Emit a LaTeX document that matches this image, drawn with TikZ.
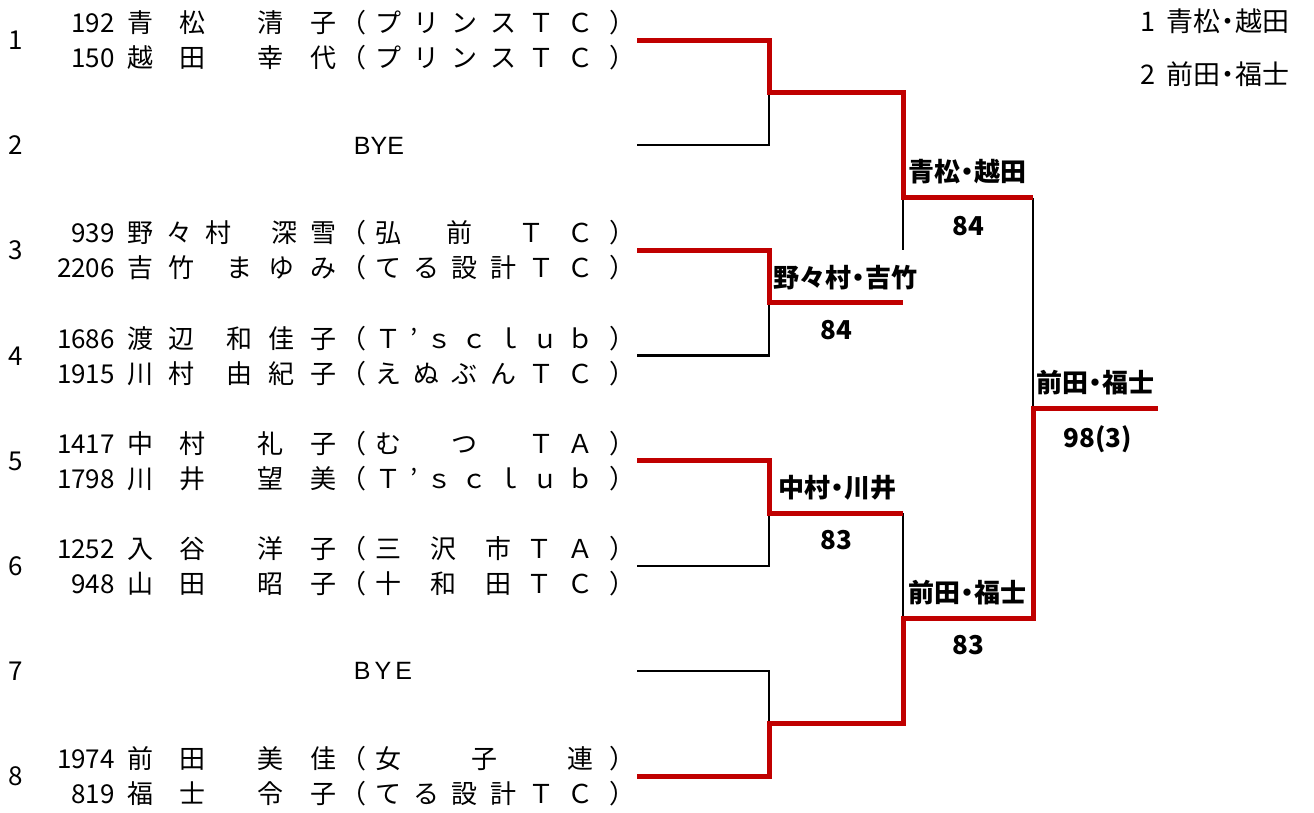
\documentclass[tikz,border=0pt]{standalone}
\usepackage{fontspec}
\setmainfont{Noto Sans CJK JP}
\newfontfamily\latinfont{Liberation Sans}
\usepackage{tikz}
\usetikzlibrary{positioning}

\definecolor{winred}{HTML}{C00000}

% distributed cell, as in the spreadsheet draw sheet
\newcommand{\dist}[2]{\makebox[#1][s]{#2}}
\newcommand{\pair}[2]{\dist{209pt}{#1}\hspace{4pt}（\hspace{9pt}\dist{218pt}{#2}\hspace{16pt}）}
% narrow middle dot between the two surnames
\newcommand{\pairdot}{\kern-6pt・\kern-6pt}

\begin{document}
\begin{tikzpicture}[
  x=1pt,y=-1pt,
  entry/.style={inner sep=0pt,font=\fontsize{26}{26}\selectfont},
  seed/.style={entry,anchor=base},
  num/.style={entry,anchor=base east},
  player/.style={entry,anchor=base west},
  bye/.style={inner sep=0pt,anchor=base,font=\latinfont\fontsize{25}{25}\selectfont},
  winner/.style={inner sep=0pt,anchor=base,font=\bfseries\fontsize{26}{26}\selectfont},
  legend/.style={inner sep=0pt,anchor=base west,font=\fontsize{27}{27}\selectfont},
  lose/.style={line width=2.5pt,black},
  win/.style={line width=5pt,winred}
]
\useasboundingbox (0,0) rectangle (1314,812);

% seeds
\node[seed] (s1) at (16,49.5) {1};
\node[seed] (s2) at (16,154.7) {2};
\node[seed] (s3) at (16,259.8) {3};
\node[seed] (s4) at (16,365) {4};
\node[seed] (s5) at (16,470.1) {5};
\node[seed] (s6) at (16,575.3) {6};
\node[seed] (s7) at (16,680.4) {7};
\node[seed] (s8) at (16,785.5) {8};

% players
\node[num] (n1a) at (115,32.5) {192};
\node[player] (p1a) at (127,32.5) {\pair{青\hfill 松\hfill\hfill 清\hfill 子}{プ\hfill リ\hfill ン\hfill ス\hfill Ｔ\hfill Ｃ}};
\node[num] (n1b) at (115,67.5) {150};
\node[player] (p1b) at (127,67.5) {\pair{越\hfill 田\hfill\hfill 幸\hfill 代}{プ\hfill リ\hfill ン\hfill ス\hfill Ｔ\hfill Ｃ}};

\node[bye] (bye2) at (379,154.2) {BYE};

\node[num] (n3a) at (115,242.8) {939};
\node[player] (p3a) at (127,242.8) {\pair{野\hfill 々\hfill 村\hfill\hfill\hfill 深\hfill 雪}{弘\hfill\hfill 前\hfill\hfill Ｔ\hfill Ｃ}};
\node[num] (n3b) at (115,277.8) {2206};
\node[player] (p3b) at (127,277.8) {\pair{吉\hfill 竹\hfill\hfill ま\hfill ゆ\hfill み}{て\hfill る\hfill 設\hfill 計\hfill Ｔ\hfill Ｃ}};

\node[num] (n4a) at (115,348) {1686};
\node[player] (p4a) at (127,348) {\pair{渡\hfill 辺\hfill\hfill 和\hfill 佳\hfill 子}{Ｔ\hfill ’\hfill ｓ\hfill ｃ\hfill ｌ\hfill ｕ\hfill ｂ}};
\node[num] (n4b) at (115,383) {1915};
\node[player] (p4b) at (127,383) {\pair{川\hfill 村\hfill\hfill 由\hfill 紀\hfill 子}{え\hfill ぬ\hfill ぶ\hfill ん\hfill Ｔ\hfill Ｃ}};

\node[num] (n5a) at (115,453.1) {1417};
\node[player] (p5a) at (127,453.1) {\pair{中\hfill 村\hfill\hfill 礼\hfill 子}{む\hfill\quad\hfill つ\hfill\quad\hfill Ｔ\hfill Ａ}};
\node[num] (n5b) at (115,488.1) {1798};
\node[player] (p5b) at (127,488.1) {\pair{川\hfill 井\hfill\hfill 望\hfill 美}{Ｔ\hfill ’\hfill ｓ\hfill ｃ\hfill ｌ\hfill ｕ\hfill ｂ}};

\node[num] (n6a) at (115,558.3) {1252};
\node[player] (p6a) at (127,558.3) {\pair{入\hfill 谷\hfill\hfill 洋\hfill 子}{三\hfill\hfill 沢\hfill\hfill 市\hfill Ｔ\hfill Ａ}};
\node[num] (n6b) at (115,593.3) {948};
\node[player] (p6b) at (127,593.3) {\pair{山\hfill 田\hfill\hfill 昭\hfill 子}{十\hfill\hfill 和\hfill\hfill 田\hfill Ｔ\hfill Ｃ}};

\node[bye] (bye7) at (383,679.9) {B\hspace{4pt}Y\hspace{4pt}E};

\node[num] (n8a) at (115,768.5) {1974};
\node[player] (p8a) at (127,768.5) {\pair{前\hfill 田\hfill\hfill 美\hfill 佳}{女\hfill 子\hfill 連}};
\node[num] (n8b) at (115,803.5) {819};
\node[player] (p8b) at (127,803.5) {\pair{福\hfill 士\hfill\hfill 令\hfill 子}{て\hfill る\hfill 設\hfill 計\hfill Ｔ\hfill Ｃ}};

% bracket points
\coordinate (e1) at (637,40);
\coordinate (e2) at (637,145.2);
\coordinate (e3) at (637,250.3);
\coordinate (e4) at (637,355.5);
\coordinate (e5) at (637,460.6);
\coordinate (e6) at (637,565.8);
\coordinate (e7) at (637,670.9);
\coordinate (e8) at (637,776);
\coordinate (m1) at (769,92.6);
\coordinate (m2) at (769,302.9);
\coordinate (m3) at (769,513.2);
\coordinate (m4) at (769,723.5);
\coordinate (r1) at (903,92.6);
\coordinate (r2) at (903,302.9);
\coordinate (r3) at (903,513.2);
\coordinate (r4) at (903,723.5);
\coordinate (k1) at (903,197.8);
\coordinate (k1end) at (903,250);
\coordinate (k2) at (903,618.3);
\coordinate (f1) at (1033,197.8);
\coordinate (f2) at (1033,618.3);
\coordinate (g) at (1033,408);
\coordinate (champ) at (1158,408);

\draw[lose] (e2) -| (m1);
\draw[lose] (e4) -| (m2);
\draw[lose] (e6) -| (m3);
\draw[lose] (e7) -| (m4);
\draw[lose] (k1) -- (k1end);
\draw[lose] (r3) -- (k2);
\draw[lose] (f1) -- (g);

\draw[win] (e1) -| (m1) -- (r1) -- (k1) -- (f1);
\draw[win] (e3) -| (m2) -- (r2);
\draw[win] (e5) -| (m3) -- (r3);
\draw[win] (e8) -| (m4) -- (r4) -- (k2) -- (f2) -- (g) -- (champ);

% results
\node[winner] (w1) at (967,181.5) {青松\pairdot 越田};
\node[winner] (sc1) at (968,235) {84};
\node[winner] (w2) at (845,287.5) {野々村\pairdot 吉竹};
\node[winner] (sc2) at (836,339) {84};
\node[winner] (w3) at (837,497.5) {中村\pairdot 川井};
\node[winner] (sc3) at (836,549) {83};
\node[winner] (w4) at (967,602.5) {前田\pairdot 福士};
\node[winner] (sc4) at (968,654) {83};
\node[winner] (wf) at (1095,392.5) {前田\pairdot 福士};
\node[winner] (scf) at (1098,447) {98(3)};

\node[legend] (first) at (1140,31.5) {1\hspace{11pt}青松\pairdot 越田};
\node[legend] (second) at (1140,84.5) {2\hspace{11pt}前田\pairdot 福士};
\end{tikzpicture}
\end{document}
